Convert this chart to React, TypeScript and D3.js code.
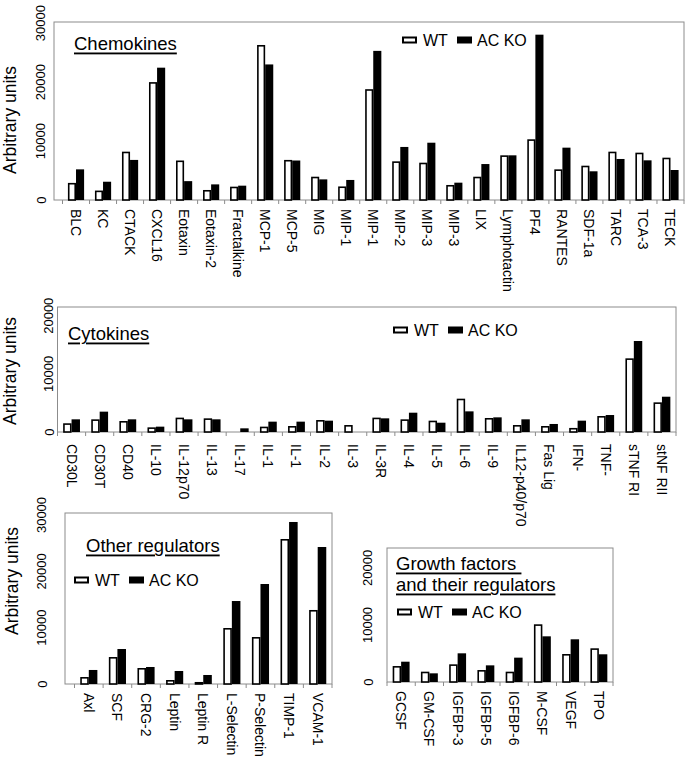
import React from 'react';
import * as d3 from 'd3';

const chemoCats = ['BLC', 'KC', 'CTACK', 'CXCL16', 'Eotaxin', 'Eotaxin-2', 'Fractalkine', 'MCP-1', 'MCP-5', 'MIG', 'MIP-1', 'MIP-1 ', 'MIP-2', 'MIP-3', 'MIP-3 ', 'LIX', 'Lymphotactin', 'PF4', 'RANTES', 'SDF-1a', 'TARC', 'TCA-3', 'TECK'];
const chemoWT = [2900, 1600, 8200, 20000, 6700, 1700, 2260, 26300, 6800, 3950, 2300, 18800, 6560, 6330, 2550, 3950, 7580, 10300, 5200, 5820, 8200, 8030, 7180];
const chemoKO = [5200, 3100, 6800, 22450, 3200, 2650, 2430, 23000, 6700, 3500, 3400, 25300, 9000, 9720, 2940, 6100, 7580, 28050, 8880, 4870, 6960, 6730, 5090];

const cytoCats = ['CD30L', 'CD30T', 'CD40', 'IL-10', 'IL-12p70', 'IL-13', 'IL-17', 'IL-1', 'IL-1 ', 'IL-2', 'IL-3', 'IL-3R', 'IL-4', 'IL-5', 'IL-6', 'IL-9', 'IL12-p40/p70', 'Fas Lig', 'IFN-', 'TNF-', 'sTNF RI', 'stNF RII'];
const cytoWT = [1500, 2180, 1890, 800, 2470, 2350, 100, 920, 1030, 2060, 1200, 2470, 2180, 1950, 5730, 2410, 1200, 1030, 700, 2750, 12670, 5100];
const cytoKO = [2180, 3500, 2180, 920, 2180, 2180, 630, 1780, 1780, 1950, 0, 2350, 3320, 1600, 3550, 2520, 2180, 1380, 1950, 2920, 15650, 6070];

const otherCats = ['Axl', 'SCF', 'CRG-2', 'Leptin', 'Leptin  R', 'L-Selectin', 'P-Selectin', 'TIMP-1', 'VCAM-1'];
const otherWT = [1240, 4790, 2840, 710, 360, 9940, 8340, 25740, 13140];
const otherKO = [2490, 6210, 3020, 2310, 1600, 14730, 17750, 28760, 24320];

const growthCats = ['GCSF', 'GM-CSF', 'IGFBP-3', 'IGFBP-5', 'IGFBP-6', 'M-CSF', 'VEGF', 'TPO'];
const growthWT = [2800, 1810, 3100, 2100, 1810, 10120, 4910, 5910];
const growthKO = [3560, 1520, 5030, 2920, 4270, 8010, 7490, 4860];

const ticks30 = [0, 10000, 20000, 30000];
const ticks20 = [0, 10000, 20000];
const seriesNames = ['WT', 'AC KO'];

const FONT = '"Liberation Sans", Arial, sans-serif';

type PanelProps = {
  cats: string[];
  wt: number[];
  ko: number[];
  frameX0: number;
  axX0: number;
  axX1: number;
  yTop: number;
  yBase: number;
  yMax: number;
  ticks: number[];
  tickX: number;
  labelGap: number;
  title: string[];
  titleX: number;
  titleY: number;
  legendX: number;
  legendY: number;
};

function Panel(p: PanelProps) {
  const x = d3.scaleBand<string>().domain(p.cats).range([p.axX0, p.axX1]).paddingInner(0).paddingOuter(0);
  const inner = d3.scaleBand<string>().domain(['wt', 'ko']).range([0, x.bandwidth()]).paddingInner(0).paddingOuter(0.67);
  const y = d3.scaleLinear().domain([0, p.yMax]).range([p.yBase, p.yTop]);
  const bw = inner.bandwidth();
  const boundaries = p.cats.map((c) => x(c) as number).concat([p.axX1]);
  return (
    <g>
      <rect x={p.frameX0} y={p.yTop} width={p.axX1 - p.frameX0} height={p.yBase - p.yTop} fill="none" stroke="#8c8c8c" strokeWidth={1} />
      {boundaries.map((b, i) => (
        <line key={'t' + i} x1={b} x2={b} y1={p.yBase} y2={p.yBase + 4} stroke="#8c8c8c" strokeWidth={1} />
      ))}
      {p.cats.map((c, i) => {
        const x0 = (x(c) as number) + (inner('wt') as number);
        const x1 = (x(c) as number) + (inner('ko') as number);
        const hw = p.yBase - y(p.wt[i]);
        const hk = p.yBase - y(p.ko[i]);
        return (
          <g key={'b' + i}>
            <rect x={x0 + 0.8} y={y(p.wt[i]) + 0.8} width={bw - 1.6} height={Math.max(0, hw - 0.8)} fill="#fff" stroke="#000" strokeWidth={1.6} />
            <rect x={x1} y={y(p.ko[i])} width={bw} height={hk} fill="#000" />
          </g>
        );
      })}
      {p.ticks.map((t) => (
        <text key={'y' + t} x={p.tickX} y={y(t)} transform={`rotate(-90, ${p.tickX}, ${y(t)})`} textAnchor="middle" dominantBaseline="central" fontSize={13} fontFamily={FONT} fill="#000">
          {t}
        </text>
      ))}
      {p.cats.map((c, i) => {
        const cx = (x(c) as number) + x.bandwidth() / 2;
        const cy = p.yBase + p.labelGap;
        return (
          <text key={'c' + i} x={cx} y={cy} transform={`rotate(90, ${cx}, ${cy})`} textAnchor="start" dominantBaseline="central" fontSize={14} fontFamily={FONT} fill="#000">
            {c.trim()}
          </text>
        );
      })}
      {p.title.map((t, i) => (
        <text key={'ti' + i} x={p.titleX} y={p.titleY + i * 21} dominantBaseline="central" fontSize={18.5} fontFamily={FONT} textDecoration="underline" fill="#000" style={{ whiteSpace: 'pre' }}>
          {t}
        </text>
      ))}
      <g>
        <rect x={p.legendX + 1} y={p.legendY - 2.5} width={13} height={5} fill="#fff" stroke="#000" strokeWidth={2} />
        <text x={p.legendX + 21} y={p.legendY} dominantBaseline="central" fontSize={16} fontFamily={FONT} fill="#000">{seriesNames[0]}</text>
        <rect x={p.legendX + 55} y={p.legendY - 3.5} width={15} height={7} fill="#000" />
        <text x={p.legendX + 75} y={p.legendY} dominantBaseline="central" fontSize={16} fontFamily={FONT} fill="#000">{seriesNames[1]}</text>
      </g>
    </g>
  );
}

function YLabel({ x, y }: { x: number; y: number }) {
  return (
    <text x={x} y={y} transform={`rotate(-90, ${x}, ${y})`} textAnchor="middle" dominantBaseline="central" fontSize={17.5} fontFamily={FONT} fill="#000">
      Arbitrary units
    </text>
  );
}

export default function App() {
  return (
    <svg width={685} height={759} style={{ position: 'absolute', left: 0, top: 0, background: '#fff' }}>
      <rect x={0} y={0} width={685} height={759} fill="#fff" />
      <Panel cats={chemoCats} wt={chemoWT} ko={chemoKO} frameX0={54} axX0={62.5} axX1={684} yTop={22} yBase={200} yMax={30200} ticks={ticks30} tickX={41} labelGap={9}
        title={['Chemokines']} titleX={74} titleY={43} legendX={402} legendY={40} />
      <YLabel x={10} y={120} />
      <Panel cats={cytoCats} wt={cytoWT} ko={cytoKO} frameX0={57.5} axX0={57.5} axX1={676} yTop={307} yBase={432} yMax={21500} ticks={ticks20} tickX={49} labelGap={12}
        title={['Cytokines']} titleX={68} titleY={333} legendX={393} legendY={330} />
      <YLabel x={10} y={371} />
      <Panel cats={otherCats} wt={otherWT} ko={otherKO} frameX0={65} axX0={74.5} axX1={332} yTop={513} yBase={684} yMax={30355} ticks={ticks30} tickX={42} labelGap={9}
        title={['Other regulators']} titleX={86} titleY={545} legendX={74} legendY={580} />
      <YLabel x={12} y={581} />
      <Panel cats={growthCats} wt={growthWT} ko={growthKO} frameX0={387} axX0={387} axX1={613} yTop={548} yBase={682} yMax={23500} ticks={ticks20} tickX={368} labelGap={9}
        title={['Growth factors ', 'and their regulators']} titleX={396} titleY={563} legendX={397} legendY={612} />
    </svg>
  );
}
